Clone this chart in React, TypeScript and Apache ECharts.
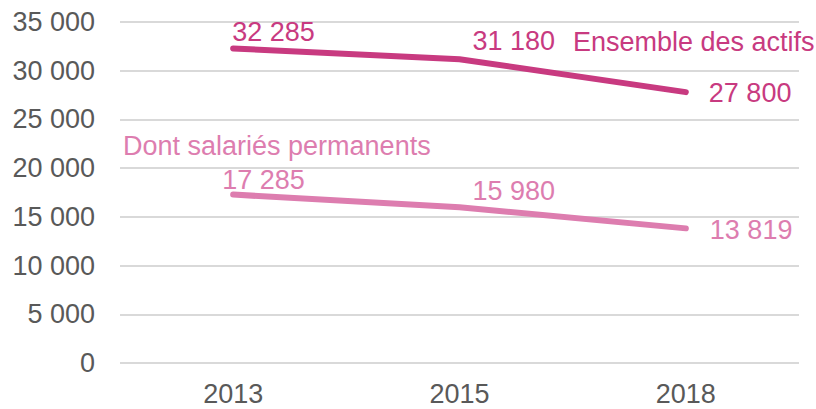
import React, { useEffect, useRef } from "react";
import * as echarts from "echarts";

const years = ["2013", "2015", "2018"];
const ensembleActifs = [32285, 31180, 27800];
const salariesPermanents = [17285, 15980, 13819];
const yTicks = { min: 0, max: 35000, interval: 5000 };
const ensembleOffsets: [number, number][] = [[-1, -16], [13, -18], [23, 1]];
const salariesOffsets: [number, number][] = [[-11, -15], [13, -16], [24, 2]];

const DARK = "#c83a80";
const LIGHT = "#dd7daf";
const FONT = "'Liberation Sans', Arial, Helvetica, sans-serif";
const FS = 27;

const fmt = (v: number) => String(v).replace(/\B(?=(\d{3})+(?!\d))/g, " ");

export default function App() {
  const ref = useRef<HTMLDivElement>(null);
  useEffect(() => {
    if (!ref.current) return;
    const chart = echarts.init(ref.current, undefined, { renderer: "svg" });
    const mkData = (vals: number[], offs: [number, number][], color: string) =>
      vals.map((v, i) => ({
        value: v,
        label: {
          show: true,
          position: "right",
          distance: 0,
          offset: offs[i],
          formatter: () => fmt(v),
          color,
          fontSize: FS,
          fontFamily: FONT,
        },
      }));
    chart.setOption({
      animation: false,
      backgroundColor: "#ffffff",
      grid: { left: 120, right: 17, top: 22, bottom: 46 },
      xAxis: {
        type: "category",
        data: years,
        boundaryGap: true,
        axisLine: { show: false },
        axisTick: { show: false },
        axisLabel: { color: "#595959", fontSize: FS, fontFamily: FONT, margin: 17 },
      },
      yAxis: {
        type: "value",
        min: yTicks.min,
        max: yTicks.max,
        interval: yTicks.interval,
        axisLine: { show: false },
        axisTick: { show: false },
        axisLabel: {
          color: "#595959",
          fontSize: FS,
          fontFamily: FONT,
          margin: 25,
          formatter: (v: number) => fmt(v),
        },
        splitLine: { lineStyle: { color: "#d9d9d9", width: 2 } },
      },
      series: [
        {
          type: "line",
          data: mkData(ensembleActifs, ensembleOffsets, DARK),
          symbol: "circle",
          symbolSize: 0.01,
          showSymbol: true,
          itemStyle: { color: "rgba(0,0,0,0)" },
          lineStyle: { color: DARK, width: 6, cap: "round" },
        },
        {
          type: "line",
          data: mkData(salariesPermanents, salariesOffsets, LIGHT),
          symbol: "circle",
          symbolSize: 0.01,
          showSymbol: true,
          itemStyle: { color: "rgba(0,0,0,0)" },
          lineStyle: { color: LIGHT, width: 6, cap: "round" },
        },
      ],
      graphic: [
        {
          type: "text",
          left: 573,
          top: 28,
          style: { text: "Ensemble des actifs", fill: DARK, font: `${FS}px ${FONT}` },
        },
        {
          type: "text",
          left: 123,
          top: 132,
          style: { text: "Dont salariés permanents", fill: LIGHT, font: `${FS}px ${FONT}` },
        },
      ],
    });
    return () => chart.dispose();
  }, []);
  return (
    <div
      ref={ref}
      style={{ position: "fixed", left: 0, top: 0, width: 816, height: 409 }}
    />
  );
}
